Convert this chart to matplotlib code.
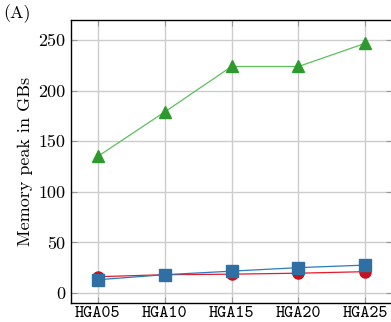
import numpy as np
import matplotlib
matplotlib.use("Agg")
import matplotlib.pyplot as plt

plt.rcParams['font.family'] = ['cmr10', 'DejaVu Serif']
plt.rcParams['axes.unicode_minus'] = False

# data
labels = ['HGA05', 'HGA10', 'HGA15', 'HGA20', 'HGA25']
green_vals = [135, 179, 224, 224, 247]
red_vals = [16, 18, 18.5, 19.5, 21]
blue_vals = [13, 18, 21.5, 25, 27.5]
yticks = [0, 50, 100, 150, 200, 250]

x = np.arange(len(labels))

fig = plt.figure(figsize=(3.91, 3.22), dpi=100)
ax = fig.add_axes([71/391, 19/322, 1.0 - 71/391 + 0.003, (303-20)/322])

ax.plot(x, green_vals, color='#5cbf5c', lw=0.9, marker='^', ms=8,
        mfc='#2e9a2e', mec='#2e9a2e', zorder=3)
ax.plot(x, red_vals, color='#e8192c', lw=0.9, marker='o', ms=8,
        mfc='#c8101e', mec='#c8101e', zorder=3)
ax.plot(x, blue_vals, color='#2b7bb9', lw=0.9, marker='s', ms=8.5,
        mfc='#2f6fa3', mec='#2f6fa3', zorder=4)

ax.set_xlim(-0.4, 4.4)
ax.set_ylim(-10, 270)
ax.set_xticks(x)
ax.set_xticklabels(labels, fontsize=12.5, family=['cmtt10', 'DejaVu Sans Mono'])
ax.set_yticks(yticks)
ax.set_yticklabels([str(v) for v in yticks], fontsize=13)
ax.set_ylabel('Memory peak in GBs', fontsize=13, labelpad=4)

ax.grid(True, color='#cccccc', lw=1.0)
ax.set_axisbelow(True)
ax.tick_params(direction='in', length=4, color='#999999', top=True, right=True,
               labeltop=False, labelright=False, pad=4)
ax.tick_params(axis='x', pad=2)
for s in ['left', 'top', 'bottom']:
    ax.spines[s].set_linewidth(1.0)
ax.spines['right'].set_visible(False)

fig.text(3/391, 1 - 18/322, '(A)', fontsize=13)

fig.savefig('out.png', dpi=100)
